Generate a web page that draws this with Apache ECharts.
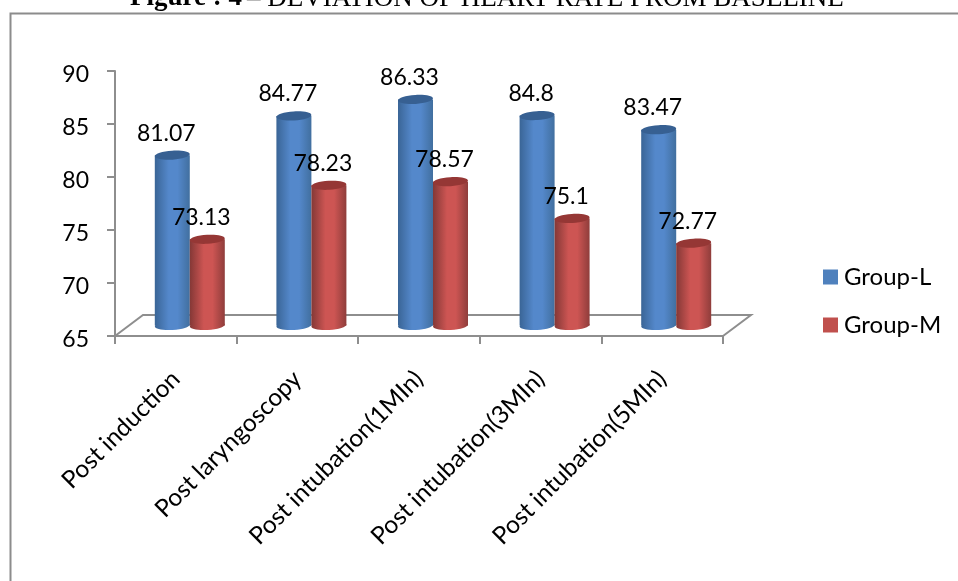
<!DOCTYPE html>
<html>
<head>
<meta charset="utf-8">
<style>html,body{margin:0;padding:0;background:#fff}#chart{width:958px;height:581px}</style>
<script src="https://cdn.jsdelivr.net/npm/echarts@6/dist/echarts.min.js"></script>
</head>
<body>
<div id="chart"></div>
<script>
const categories = ['Post induction', 'Post laryngoscopy', 'Post intubation(1MIn)', 'Post intubation(3MIn)', 'Post intubation(5MIn)'];
const groupL = [81.07, 84.77, 86.33, 84.8, 83.47];
const groupM = [73.13, 78.23, 78.57, 75.1, 72.77];

const FONT = 'Lato';
const AXIS_GREY = '#8e8e8e';
// Depth of the pseudo-3D floor, in pixels
const DEPTH_X = 28, DEPTH_Y = 21;
const BAR_W = 35;

const shade = (edgeL, mid, edgeR) => ({
  type: 'linear', x: 0, y: 0, x2: 1, y2: 0,
  colorStops: [
    { offset: 0, color: edgeL }, { offset: 0.4, color: mid },
    { offset: 0.65, color: mid }, { offset: 1, color: edgeR }
  ]
});

// Draws one cylinder; side is -1 for the left bar of a pair, +1 for the right one
function cylinder(side, body, cap) {
  return function (params, api) {
    const val = api.value(1);
    const top = api.coord([api.value(0), val]);
    const base = api.coord([api.value(0), 65]);
    const cx = top[0] + DEPTH_X / 2 + side * BAR_W / 2;
    const yTop = top[1] - DEPTH_Y / 2;
    const yBase = base[1] - DEPTH_Y / 2;
    const rx = BAR_W / 2, ry = 4.5;
    return {
      type: 'group',
      children: [
        { type: 'ellipse', shape: { cx, cy: yBase, rx, ry }, rotation: 0.06, originX: cx, originY: yBase, style: { fill: body }, z2: 1 },
        { type: 'rect', shape: { x: cx - rx, y: yTop, width: BAR_W, height: yBase - yTop }, style: { fill: body }, z2: 2 },
        { type: 'ellipse', shape: { cx, cy: yTop, rx, ry }, rotation: 0.06, originX: cx, originY: yTop, style: { fill: cap }, z2: 3 },
        {
          type: 'text', z2: 50,
          style: {
            x: cx - 6, y: yTop - 22, text: String(val),
            font: '23px ' + FONT, fill: '#000', align: 'center', verticalAlign: 'middle'
          }
        }
      ]
    };
  };
}

// Floor outline behind the bars, hung off the axis corners
function floor(params, api) {
  const half = api.size([1, 0])[0] / 2;
  const a = api.coord([0, 65]);
  const b = api.coord([categories.length - 1, 65]);
  const x0 = a[0] - half, x1 = b[0] + half, y = a[1];
  return {
    type: 'polyline',
    shape: { points: [[x0, y], [x0 + DEPTH_X, y - DEPTH_Y], [x1 + DEPTH_X, y - DEPTH_Y], [x1, y]] },
    style: { stroke: AXIS_GREY, lineWidth: 2, fill: 'none' }
  };
}

const pairs = values => values.map((v, i) => [i, v]);

const chart = echarts.init(document.getElementById('chart'), null, { renderer: 'canvas' });
chart.setOption({
  animation: false,
  backgroundColor: '#fff',
  title: {
    text: '{b|Figure : 4} {n|– DEVIATION OF HEART RATE FROM BASELINE}',
    left: 130, top: -15, padding: 0,
    textStyle: {
      fontWeight: 'normal',
      rich: {
        b: { fontFamily: 'Liberation Serif', fontSize: 27, fontWeight: 'bold', color: '#000' },
        n: { fontFamily: 'Liberation Serif', fontSize: 27, fontWeight: 'normal', color: '#000' }
      }
    }
  },
  legend: {
    data: ['Group-L', 'Group-M'],
    orient: 'vertical', left: 823, top: 265, padding: 0,
    itemWidth: 15, itemHeight: 15, itemGap: 24,
    icon: 'rect',
    textStyle: { fontFamily: FONT, fontSize: 24, color: '#000', padding: [0, 0, 0, 1] }
  },
  grid: { left: 115, right: 235, top: 71, bottom: 245, containLabel: false },
  xAxis: {
    type: 'category', data: categories,
    axisLine: { lineStyle: { color: AXIS_GREY, width: 2 } },
    axisTick: { show: true, length: 8, alignWithLabel: false, lineStyle: { color: AXIS_GREY, width: 2 } },
    axisLabel: { rotate: 45, interval: 0, margin: 39, fontFamily: FONT, fontSize: 24.5, color: '#000' }
  },
  yAxis: {
    type: 'value', min: 65, max: 90, interval: 5,
    splitLine: { show: false },
    axisLine: { show: true, lineStyle: { color: AXIS_GREY, width: 2 } },
    axisTick: { show: true, length: 8, lineStyle: { color: AXIS_GREY, width: 2 } },
    axisLabel: {
      margin: 26,
      formatter: '{t|{value}}',
      rich: { t: { fontFamily: FONT, fontSize: 23, color: '#000', padding: [7, 0, 0, 0] } }
    }
  },
  series: [
    { type: 'custom', name: 'floor', data: [[0, 65]], renderItem: floor, encode: { x: 0, y: 1 }, z: 1, silent: true },
    {
      type: 'custom', name: 'Group-L', data: pairs(groupL), encode: { x: 0, y: 1 }, z: 2,
      itemStyle: { color: '#4f81bd' },
      renderItem: cylinder(-1, shade('#3a6596', '#5488cb', '#416f9f'), '#376092')
    },
    {
      type: 'custom', name: 'Group-M', data: pairs(groupM), encode: { x: 0, y: 1 }, z: 3,
      itemStyle: { color: '#c0504d' },
      renderItem: cylinder(1, shade('#843836', '#cd5553', '#8f3d3b'), '#953735')
    }
  ],
  graphic: [
    // Open frame around the chart: only the top and left edges show
    {
      type: 'polyline', silent: true,
      shape: { points: [[10.5, 581], [10.5, 13.5], [958, 13.5]] },
      style: { stroke: '#8c8c8c', lineWidth: 2, fill: 'none' }
    }
  ]
});
</script>
</body>
</html>
